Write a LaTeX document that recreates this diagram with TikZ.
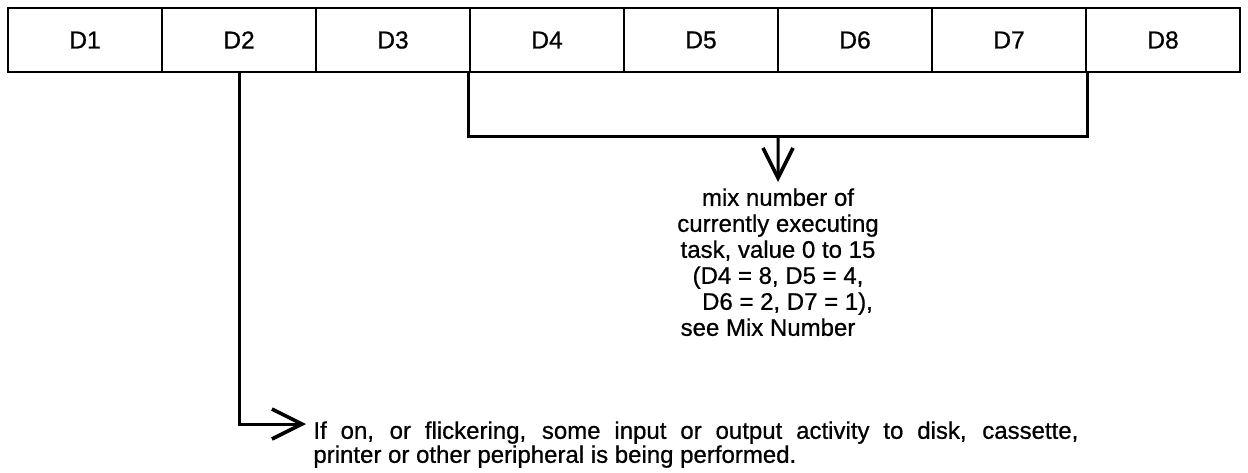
\documentclass[tikz,border=0pt]{standalone}
\usepackage{fontspec}
\setmainfont{Liberation Sans}[FakeBold=0.7]
\usetikzlibrary{arrows.meta,calc}
\begin{document}
\begin{tikzpicture}[x=0.5pt,y=-0.5pt,
  bit/.style={draw,line width=1.4pt,minimum width=77pt,minimum height=32pt,
              inner sep=0pt,font=\fontsize{12.3}{14}\selectfont},
  conn/.style={line width=1.5pt},
  barb/.style={-{Straight Barb[length=15pt,width=15pt,line width=1.8pt]}},
  note/.style={inner sep=0pt,font=\fontsize{12}{13}\selectfont}]
\useasboundingbox (0,0) rectangle (1248,472);

% the eight status bits
\foreach \i in {1,...,8}
  \node[bit] (d\i) at ({85+154*(\i-1)},40) {D\i};

% explanation of D4..D7
\node[note,anchor=north,align=center] (mix) at (778,188)
  {mix number of\\
   currently executing\\
   task, value 0 to 15\\
   (D4 = 8, D5 = 4,\hspace*{3pt}\\
   \hspace*{9.5pt}D6 = 2, D7 = 1),\\
   see Mix Number\hspace*{10pt}};

% explanation of D2
\node[note,anchor=north west,align=left,font=\fontsize{12}{12}\selectfont] (io) at (313,421)
  {\makebox[382.5pt][s]{If on, or flickering, some input or output activity to disk, cassette,}\\
   printer or other peripheral is being performed.};

% bracket over D4..D7 and its arrow
\coordinate (bar) at ($(d4.south west)!0.5!(d7.south east)+(0,63)$);
\draw[conn] (d4.south west) |- (bar) -| (d7.south east);
\draw[conn,barb] (bar) -- ([yshift=3pt]mix.north);

% line from D2 to its note
\coordinate (iotip) at ($(io.north west)+(-7,3)$);
\draw[conn,barb] (d2.south) |- (iotip);
\end{tikzpicture}
\end{document}
